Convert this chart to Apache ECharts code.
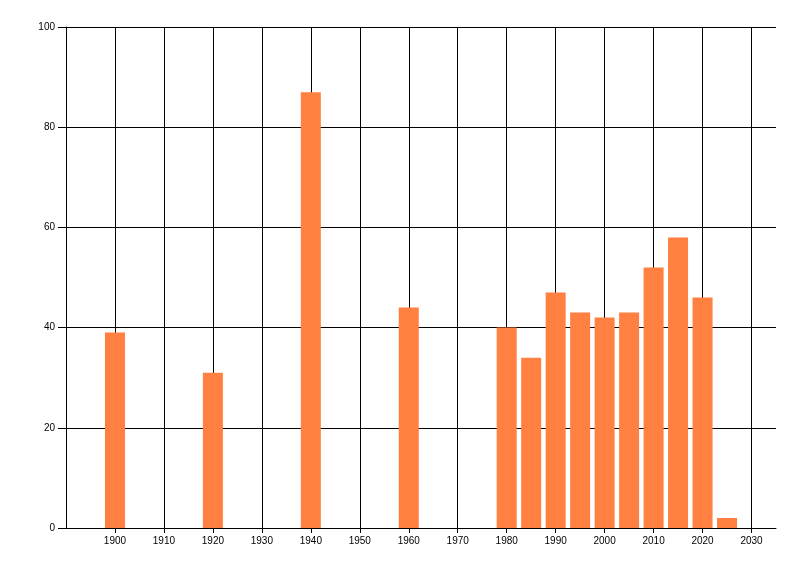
<!DOCTYPE html>
<html>
<head>
<meta charset="utf-8">
<script src="https://cdn.jsdelivr.net/npm/echarts@6/dist/echarts.min.js"></script>
<style>
  html, body { margin: 0; padding: 0; background: #fff; }
  #chart { width: 800px; height: 576px; }
</style>
</head>
<body>
<div id="chart"></div>
<script>
// 数据
const years = [1900, 1920, 1940, 1960, 1980, 1985, 1990, 1995, 2000, 2005, 2010, 2015, 2020, 2025];
const values = [39, 31, 87, 44, 40, 34, 47, 43, 42, 43, 52, 58, 46, 2];

const chartDom = document.getElementById('chart');
const myChart = echarts.init(chartDom);

const labelFont = {
    color: '#000',
    fontFamily: 'Liberation Sans, Arial, sans-serif',
    fontSize: 10
};

const option = {
    animation: false,
    backgroundColor: '#fff',
    grid: { left: 66, right: 24, top: 27, bottom: 48 },
    xAxis: {
        type: 'value',
        min: 1890,
        max: 2035,
        interval: 10,
        axisLine: { show: true, lineStyle: { color: '#000', width: 1 } },
        axisTick: { show: true, length: 5, lineStyle: { color: '#000' } },
        axisLabel: Object.assign({
            margin: 8,
            showMinLabel: false,
            showMaxLabel: false,
            formatter: v => (v === 1890 ? '' : String(v))
        }, labelFont),
        splitLine: { show: true, showMaxLine: false, lineStyle: { color: '#000', width: 1 } }
    },
    yAxis: {
        type: 'value',
        min: 0,
        max: 100,
        interval: 20,
        axisLine: { show: true, lineStyle: { color: '#000', width: 1 } },
        axisTick: { show: true, length: 8, lineStyle: { color: '#000' } },
        axisLabel: Object.assign({ margin: 11 }, labelFont),
        splitLine: { show: true, lineStyle: { color: '#000', width: 1 } }
    },
    series: [{
        type: 'bar',
        data: years.map((y, i) => [y, values[i]]),
        barWidth: 20,
        itemStyle: { color: '#FF8040' }
    }]
};

myChart.setOption(option);
</script>
</body>
</html>
